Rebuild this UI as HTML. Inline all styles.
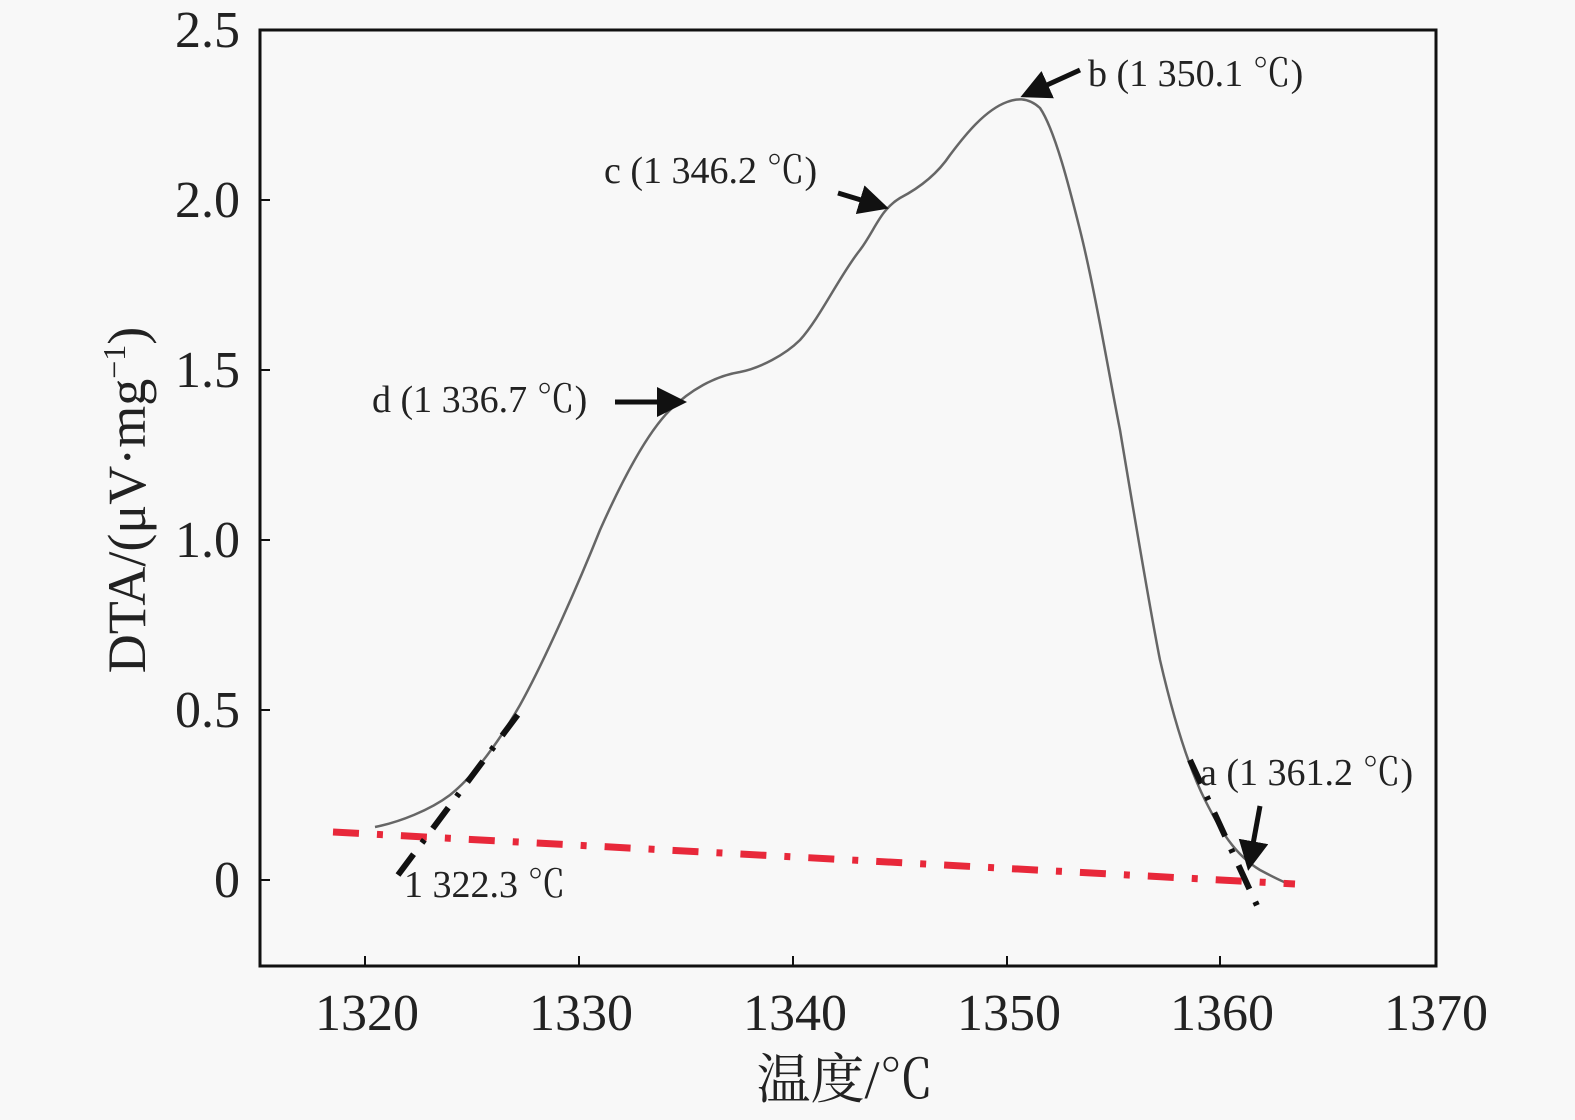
<!DOCTYPE html>
<html><head><meta charset="utf-8"><style>
body{margin:0;background:#f8f8f8}
svg{display:block}
text{font-family:"Liberation Serif","Noto Serif CJK SC",serif;fill:#222}
</style></head><body>
<svg width="1575" height="1120" viewBox="0 0 1575 1120">
<rect width="1575" height="1120" fill="#f8f8f8"/>
<defs><marker id="ah" markerWidth="6" markerHeight="6" refX="5" refY="3" orient="auto" markerUnits="strokeWidth"><path d="M0,0 L6,3 L0,6 Z" fill="#111"/></marker></defs>
<rect x="260" y="30" width="1176" height="936" fill="none" stroke="#111" stroke-width="3"/>
<g stroke="#111" stroke-width="2">
<line x1="365" y1="966" x2="365" y2="956"/><line x1="579" y1="966" x2="579" y2="956"/><line x1="793" y1="966" x2="793" y2="956"/><line x1="1007" y1="966" x2="1007" y2="956"/><line x1="1220" y1="966" x2="1220" y2="956"/>
<line x1="260" y1="880" x2="270" y2="880"/><line x1="260" y1="710" x2="270" y2="710"/><line x1="260" y1="540" x2="270" y2="540"/><line x1="260" y1="370" x2="270" y2="370"/><line x1="260" y1="200" x2="270" y2="200"/>
</g>
<g font-size="52" text-anchor="middle">
<text x="367" y="1030">1320</text><text x="581" y="1030">1330</text><text x="795" y="1030">1340</text><text x="1009" y="1030">1350</text><text x="1222" y="1030">1360</text><text x="1436" y="1030">1370</text>
</g>
<g font-size="52" text-anchor="end">
<text x="240" y="897">0</text><text x="240" y="727">0.5</text><text x="240" y="557">1.0</text><text x="240" y="387">1.5</text><text x="240" y="217">2.0</text><text x="240" y="47">2.5</text>
</g>
<text x="845" y="1098" font-size="54" text-anchor="middle">温度/℃</text>
<text transform="translate(145,500) rotate(-90)" font-size="54" text-anchor="middle">DTA/(μV·mg<tspan font-size="32" dy="-20">−1</tspan><tspan dy="20">)</tspan></text>
<path d="M375,827 C400,822 430,810 450,795 C475,775 500,740 520,705 C545,660 580,580 600,530 C620,485 645,435 670,410 C690,390 715,376 740,372 C760,368 785,355 800,340 C820,318 840,275 860,250 C875,230 880,210 900,198 C925,185 940,170 950,155 C965,135 985,110 1007,102 C1015,99 1027,96 1040,108 C1055,130 1070,190 1080,230 C1095,290 1110,380 1120,430 C1135,520 1150,610 1160,660 C1175,725 1190,770 1205,800 C1220,830 1235,855 1260,870 C1275,878 1285,883 1292,885" fill="none" stroke="#666" stroke-width="2.5"/>
<line x1="333" y1="832" x2="1295" y2="884" stroke="#e8283a" stroke-width="7" stroke-dasharray="26,18,6,18"/>
<line x1="398" y1="875" x2="525" y2="705" stroke="#111" stroke-width="6" stroke-dasharray="26,14,4,14"/>
<line x1="1190" y1="760" x2="1260" y2="912" stroke="#111" stroke-width="6" stroke-dasharray="26,14,4,14"/>
<g stroke="#111" stroke-width="5" marker-end="url(#ah)">
<line x1="1080" y1="70" x2="1025" y2="95"/>
<line x1="838" y1="193" x2="884" y2="207"/>
<line x1="615" y1="402" x2="682" y2="402"/>
<line x1="1260" y1="806" x2="1249" y2="866"/>
</g>
<g font-size="38">
<text x="1088" y="86">b (1 350.1 ℃)</text>
<text x="604" y="183">c (1 346.2 ℃)</text>
<text x="372" y="412">d (1 336.7 ℃)</text>
<text x="1200" y="785">a (1 361.2 ℃)</text>
<text x="404" y="897">1 322.3 ℃</text>
</g>
</svg>
</body></html>
